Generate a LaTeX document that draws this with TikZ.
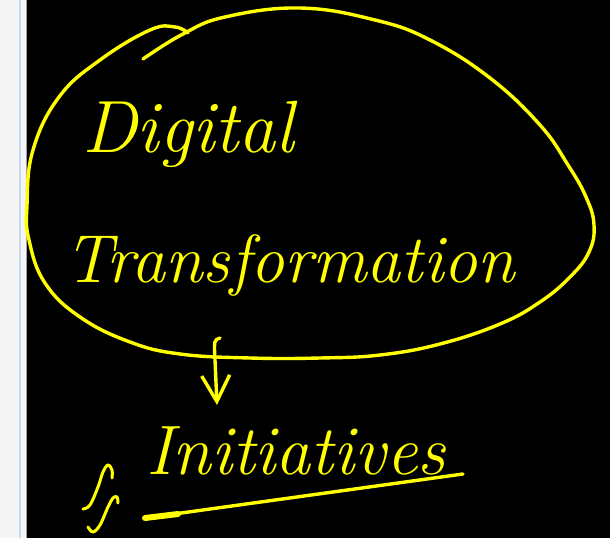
\documentclass[tikz,border=0pt]{standalone}
\usetikzlibrary{arrows.meta}
\definecolor{hl}{HTML}{FFFF00}
\definecolor{sidegrey}{HTML}{F5F5F5}
\definecolor{sideblue}{HTML}{C6DAF5}
\definecolor{sideline}{HTML}{A0A0A0}
\begin{document}
\begin{tikzpicture}[x=1pt,y=-1pt,
  ink/.style={draw=hl,line width=3.4pt,line cap=round,line join=round},
  hand/.style={text=hl,inner sep=0pt,font=\itshape}]
\useasboundingbox (0,0) rectangle (610,538);
% background
\fill[sidegrey] (0,0) rectangle (27,538);
\fill[sideblue] (19,0) rectangle (21,538);
\fill[sideline] (26,0) rectangle (27,538);
\fill[black] (27,0) rectangle (610,538);
% hand-drawn ellipse
\draw[ink] plot[smooth,tension=0.7] coordinates {
  (143,59) (183,34) (225,17) (300,8) (375,20) (430,40) (490,78) (540,125)
  (568,165) (586,197) (594,225) (589,252) (570,277) (540,302) (500,324)
  (440,344) (380,355) (320,358) (250,358) (180,354) (130,342) (80,317)
  (45,283) (29,240) (27,205) (33,150) (59,97) (100,60) (150,30) (175,27) (188,33)};
% texts
\node[hand,anchor=base west,font=\itshape\fontsize{74}{74}\selectfont] (digital) at (82,152) {Digital};
\node[hand,anchor=base west,font=\itshape\fontsize{68}{68}\selectfont] (transf) at (64,282) {Transformation};
\node[hand,anchor=base west,font=\itshape\fontsize{70}{70}\selectfont] (init) at (146,474) {Initiatives};
% arrow
\coordinate (arrTop) at (220,338);
\coordinate (arrTip) at (217,405);
\draw[ink,-{Straight Barb[length=26pt,width=28pt,line width=3.4pt]}]
  (arrTop) .. controls (214,340) .. (215,360) -- (arrTip);
% underline
\coordinate (ulA) at (145,518);
\coordinate (ulB) at (463,474);
\draw[ink] (ulA) -- (ulB);
\draw[draw=hl,line width=6pt,line cap=round] (ulA) -- (178,514);
% squiggle mark
\draw[ink,line width=3pt] plot[smooth,tension=0.6] coordinates {
  (83,509) (90,505) (98,487) (103,472) (108,465) (112,470) (112,478)};
\draw[ink,line width=3pt] plot[smooth,tension=0.6] coordinates {
  (88,527) (93,532) (100,525) (108,507) (113,498) (117,497) (118,503)};
\end{tikzpicture}
\end{document}
